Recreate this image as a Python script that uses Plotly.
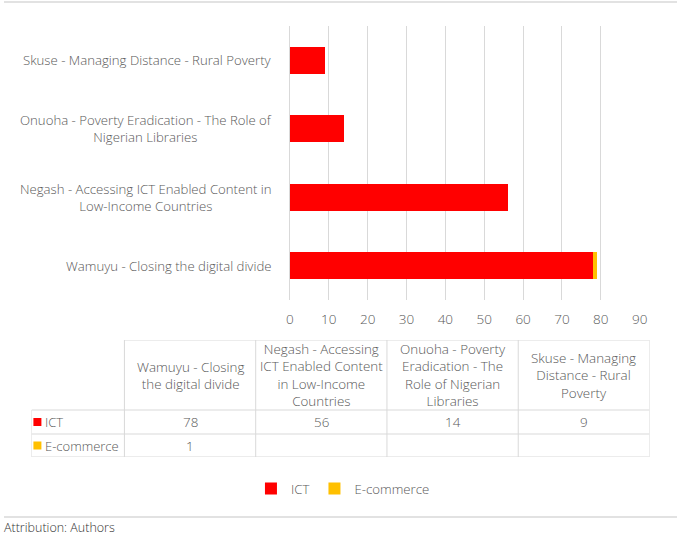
import plotly.graph_objects as go

# ---- data ----
categories = [
    "Wamuyu - Closing the digital divide",
    "Negash - Accessing ICT Enabled Content in<br>Low-Income Countries",
    "Onuoha - Poverty Eradication - The Role of<br>Nigerian Libraries",
    "Skuse - Managing Distance - Rural Poverty",
]
table_headers = [
    "Wamuyu - Closing<br>the digital divide",
    "Negash - Accessing<br>ICT Enabled Content<br>in Low-Income<br>Countries",
    "Onuoha - Poverty<br>Eradication - The<br>Role of Nigerian<br>Libraries",
    "Skuse - Managing<br>Distance - Rural<br>Poverty",
]
series_names = ["ICT", "E-commerce"]
ict = [78, 56, 14, 9]
ecommerce = [1, None, None, None]
x_ticks = [0, 10, 20, 30, 40, 50, 60, 70, 80, 90]

colors = {"ICT": "#FF0000", "E-commerce": "#FFC000"}
GRAY = "#595959"
GRID = "#D9D9D9"
FONT = "Open Sans"
WT = 300
TS = 13.4  # table font size

W, H = 685, 535

fig = go.Figure()
series_vals = [ict, ecommerce]
for name, vals in zip(series_names, series_vals):
    fig.add_trace(go.Bar(
        y=categories, x=vals, name=name, orientation="h",
        marker=dict(color=colors[name], line=dict(width=0)),
        xaxis="x", yaxis="y",
    ))

# category labels (centred multi-line, right edge near plot)
for c in categories:
    fig.add_annotation(
        x=272 / W, xref="paper", xanchor="right", xshift=3,
        y=c, yref="y", yanchor="middle",
        text=c, showarrow=False, align="center",
        font=dict(family=FONT, size=13.2, color=GRAY, weight=WT),
    )

# ---- data table drawn on its own axes (x2/y2, table units) ----
col_w = [94.5, 133.5, 133.5, 133.5, 133.5]
row_h = [70, 24, 23]
xb = [0]
for w in col_w:
    xb.append(xb[-1] + w)
yb = [0]
for h in row_h:
    yb.append(yb[-1] + h)

line = dict(color=GRID, width=1)
fig.add_shape(type="line", xref="x2", yref="y2", x0=xb[1], x1=xb[-1], y0=yb[0], y1=yb[0], line=line)
for y in yb[1:]:
    fig.add_shape(type="line", xref="x2", yref="y2", x0=xb[0], x1=xb[-1], y0=y, y1=y, line=line)
fig.add_shape(type="line", xref="x2", yref="y2", x0=xb[0], x1=xb[0], y0=yb[1], y1=yb[-1], line=line)
for x in xb[1:]:
    fig.add_shape(type="line", xref="x2", yref="y2", x0=x, x1=x, y0=yb[0], y1=yb[-1], line=line)

for i, htxt in enumerate(table_headers):
    fig.add_annotation(
        x=(xb[i + 1] + xb[i + 2]) / 2, xref="x2", y=(yb[0] + yb[1]) / 2, yref="y2",
        xanchor="center", yanchor="middle", align="center",
        text=htxt, showarrow=False,
        font=dict(family=FONT, size=TS, color=GRAY, weight=WT),
    )
for r, (name, vals) in enumerate(zip(series_names, series_vals)):
    yc = (yb[r + 1] + yb[r + 2]) / 2
    fig.add_trace(go.Scatter(
        x=[6], y=[yc], xaxis="x2", yaxis="y2", mode="markers",
        marker=dict(symbol="square", size=8, color=colors[name]),
        showlegend=False, hoverinfo="skip",
    ))
    fig.add_annotation(
        x=12, xref="x2", y=yc, yref="y2", xanchor="left", yanchor="middle",
        text=name, showarrow=False, font=dict(family=FONT, size=13, color=GRAY, weight=WT),
    )
    for i, v in enumerate(vals):
        if v is None:
            continue
        fig.add_annotation(
            x=(xb[i + 1] + xb[i + 2]) / 2, xref="x2", y=yc, yref="y2",
            xanchor="center", yanchor="middle",
            text=str(v), showarrow=False,
            font=dict(family=FONT, size=TS, color=GRAY, weight=WT),
        )

fig.add_annotation(
    x=0, xref="paper", xanchor="left", xshift=-2,
    y=(H - 527) / H, yref="paper", yanchor="middle",
    text="Attribution: Authors", showarrow=False,
    font=dict(family=FONT, size=12.5, color="#333333"),
)

fig.add_shape(type="line", xref="paper", yref="paper", x0=0, x1=1,
              y0=(H - 2) / H, y1=(H - 2) / H, line=dict(color=GRID, width=1.5))
fig.add_shape(type="line", xref="paper", yref="paper", x0=0, x1=1,
              y0=(H - 517) / H, y1=(H - 517) / H, line=dict(color=GRID, width=1.5))

fig.update_layout(
    width=W, height=H,
    margin=dict(l=0, r=0, t=0, b=0),
    paper_bgcolor="white", plot_bgcolor="white",
    barmode="stack", bargap=0.6,
    font=dict(family=FONT, size=12, color=GRAY, weight=WT),
    xaxis=dict(
        domain=[291 / W, 647 / W], range=[0, 90], tickvals=x_ticks,
        showgrid=True, gridcolor=GRID, gridwidth=1,
        zeroline=True, zerolinecolor=GRID, zerolinewidth=1,
        showline=False, ticks="", ticklabelstandoff=9,
        tickfont=dict(family=FONT, size=13.5, color=GRAY, weight=WT),
        anchor="y",
    ),
    yaxis=dict(
        domain=[(H - 300) / H, (H - 26) / H], range=[-0.5, 3.5],
        showticklabels=False, showgrid=False, zeroline=False, ticks="",
        anchor="x",
    ),
    xaxis2=dict(domain=[28 / W, 657 / W], range=[0, xb[-1]], visible=False,
                anchor="y2", fixedrange=True),
    yaxis2=dict(domain=[(H - 457) / H, (H - 340) / H], range=[yb[-1], 0], visible=False,
                anchor="x2", fixedrange=True),
    showlegend=True,
    legend=dict(
        orientation="h", x=345 / W, xanchor="center",
        y=(H - 489) / H, yanchor="middle",
        font=dict(family=FONT, size=13.2, color=GRAY, weight=WT),
        traceorder="normal",
    ),
)

fig.write_html(
    "out.html",
    config={"displayModeBar": False},
    post_script="document.body.style.margin='0px';document.body.style.overflow='hidden';",
)
